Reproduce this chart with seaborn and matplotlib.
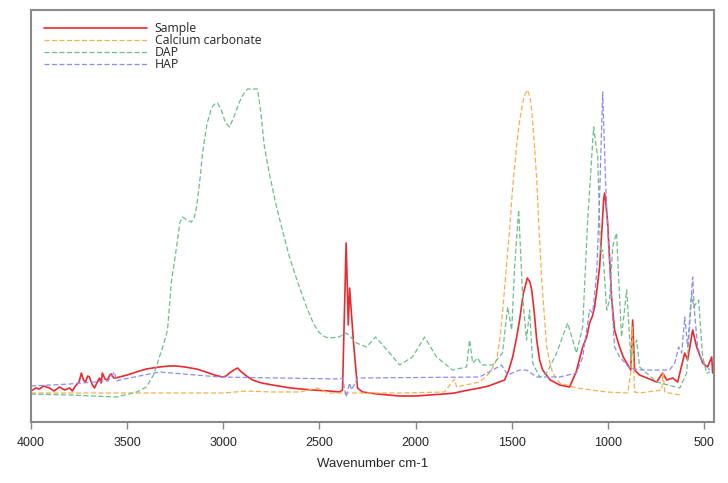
import matplotlib
matplotlib.use("Agg")
import matplotlib.pyplot as plt
import seaborn as sns
import pandas as pd

# ---- data (wavenumber cm-1, intensity a.u.) ----
sample_wn = [4000, 3975, 3956, 3935, 3904, 3880, 3852, 3825, 3800, 3785, 3769, 3750, 3738, 3727,
             3717, 3705, 3696, 3683, 3670, 3655, 3644, 3635, 3629, 3615, 3602, 3590, 3582, 3570,
             3561, 3540, 3500, 3452, 3400, 3332, 3280, 3243, 3200, 3139, 3090, 3046, 3004, 2985,
             2968, 2945, 2926, 2905, 2879, 2848, 2800, 2744, 2650, 2536, 2450, 2395, 2380, 2361,
             2350, 2343, 2323, 2302, 2276, 2200, 2083, 2000, 1927, 1850, 1797, 1750, 1667, 1620,
             1579, 1537, 1515, 1495, 1475, 1459, 1440, 1419, 1405, 1396, 1383, 1370, 1355, 1339,
             1300, 1250, 1199, 1165, 1131, 1110, 1095, 1080, 1069, 1055, 1043, 1030, 1022, 1017,
             1010, 1001, 990, 981, 965, 950, 939, 920, 902, 881, 871, 861, 835, 746, 715, 694,
             663, 637, 600, 585, 559, 538, 507, 481, 460, 455]
sample_y = [31, 34, 33, 36, 34, 31, 35, 32, 34, 31, 36, 40, 49, 42,
            40, 46, 45, 38, 34, 40, 44, 39, 49, 43, 42, 47, 48, 44,
            44, 45, 47, 50, 53, 55, 56, 56, 55, 53, 50, 47, 45, 46,
            49, 52, 54, 50, 46, 42, 39, 37, 34, 32, 31, 30, 32, 179,
            97, 134, 80, 34, 30, 28, 26, 26, 27, 28, 29, 31, 34, 36,
            39, 42, 52, 65, 84, 102, 128, 144, 140, 132, 110, 82, 62, 52,
            42, 37, 35, 50, 75, 85, 99, 106, 115, 135, 155, 195, 222, 229,
            218, 199, 160, 125, 92, 82, 75, 65, 59, 52, 102, 52, 47, 40, 49, 42,
            44, 40, 69, 62, 92, 75, 59, 55, 65, 49]

caco3_wn = [4000, 3500, 3000, 2879, 2750, 2600, 2515, 2450, 2083, 1850, 1797, 1787, 1667, 1615,
            1579, 1560, 1548, 1530, 1511, 1495, 1475, 1460, 1443, 1430, 1418, 1405, 1396, 1383,
            1370, 1357, 1344, 1330, 1318, 1300, 1287, 1250, 1163, 1006, 897, 881, 873, 861, 835,
            720, 713, 704, 626]
caco3_y = [29, 29, 29, 31, 30, 30, 34, 29, 29, 30, 43, 35, 40, 49,
           62, 85, 109, 150, 192, 235, 275, 300, 319, 328, 332, 325, 312, 280,
           242, 190, 142, 105, 75, 58, 49, 39, 34, 30, 29, 49, 95, 30, 29,
           32, 49, 30, 27]

dap_wn = [4000, 3800, 3556, 3450, 3400, 3360, 3332, 3310, 3290, 3270, 3243, 3225, 3212, 3190,
          3165, 3150, 3139, 3120, 3108, 3085, 3061, 3045, 3030, 3010, 2990, 2968, 2945, 2916,
          2895, 2874, 2822, 2805, 2786, 2760, 2723, 2690, 2656, 2610, 2567, 2530, 2499, 2470,
          2447, 2400, 2359, 2307, 2255, 2208, 2135, 2083, 2016, 1953, 1891, 1808, 1735, 1719,
          1703, 1677, 1657, 1599, 1548, 1521, 1500, 1485, 1464, 1443, 1423, 1407, 1391, 1355,
          1318, 1266, 1209, 1163, 1131, 1105, 1074, 1053, 1038, 1027, 1006, 991, 975, 955, 929,
          902, 881, 850, 835, 746, 626, 590, 564, 554, 528, 507, 486, 470]
dap_y = [28, 27, 25, 30, 35, 48, 65, 78, 92, 140, 175, 200, 205, 202,
         200, 205, 215, 245, 269, 298, 314, 318, 319, 312, 300, 295, 305, 320,
         328, 333, 333, 310, 275, 248, 215, 190, 165, 138, 115, 98, 89, 85,
         84, 85, 89, 79, 75, 85, 69, 57, 65, 85, 65, 52, 55, 82,
         59, 64, 57, 57, 69, 115, 92, 155, 212, 125, 82, 112, 59, 45,
         49, 69, 99, 69, 95, 202, 295, 265, 169, 172, 112, 122, 175, 189, 85,
         132, 65, 82, 55, 40, 34, 49, 129, 115, 122, 65, 49, 50]

hap_wn = [4000, 3800, 3600, 3566, 3556, 3540, 3332, 3020, 2395, 2380, 2361, 2343, 2333, 2302,
          1667, 1599, 1553, 1521, 1459, 1423, 1370, 1250, 1163, 1131, 1095, 1079, 1058, 1043,
          1027, 1012, 1001, 981, 965, 939, 887, 835, 679, 652, 632, 616, 600, 585, 559, 549,
          533, 507, 470]
hap_y = [36, 38, 41, 50, 41, 42, 50, 45, 43, 44, 25, 39, 32, 44,
         45, 52, 57, 47, 52, 52, 45, 45, 49, 65, 112, 109, 149, 225,
         330, 242, 192, 125, 75, 65, 54, 52, 52, 59, 75, 69, 105, 75, 145, 109,
         75, 59, 52]

series_names = ["Sample", "Calcium carbonate", "DAP", "HAP"]
x_ticks = [4000, 3500, 3000, 2500, 2000, 1500, 1000, 500]

# ---- plot ----
sns.set_style("white")
fig = plt.figure(figsize=(7.28, 4.83), dpi=100)
ax = fig.add_axes([31 / 728, 61 / 483, 683 / 728, 412 / 483])

styles = [
    (sample_wn, sample_y, "#ea2a2f", "-", 1.2),
    (caco3_wn, caco3_y, "#f5b04e", (0, (4, 2)), 0.9),
    (dap_wn, dap_y, "#6cbf8a", (0, (4, 2)), 0.9),
    (hap_wn, hap_y, "#8c8cf0", (0, (4, 2)), 0.9),
]
for name, (xs, ys, col, ls, lw) in zip(series_names, styles):
    df = pd.DataFrame({"wn": xs, "val": ys})
    sns.lineplot(data=df, x="wn", y="val", ax=ax, color=col, linestyle=ls,
                 linewidth=lw, label=name, estimator=None, sort=False)

ax.set_xlim(4000, 448)
ax.set_ylim(0, 412)
ax.set_xticks(x_ticks)
ax.set_xticklabels([str(t) for t in x_ticks], fontsize=9, family="Liberation Sans")
ax.set_yticks([])
ax.set_ylabel("")
ax.set_xlabel("Wavenumber cm-1", fontsize=9.5, family="Liberation Sans", labelpad=6)
ax.tick_params(axis="x", direction="out", length=5, width=1, color="#888888", pad=6,
               bottom=True)
for sp in ax.spines.values():
    sp.set_color("#8a8a8a")
    sp.set_linewidth(1.5)

leg = ax.legend(loc="upper left", bbox_to_anchor=(0.012, 0.982), frameon=False,
                prop={"family": "Open Sans", "size": 8.8}, handlelength=8.4,
                handletextpad=0.65, labelspacing=-0.08, borderaxespad=0)

fig.savefig("out.png", dpi=100)
